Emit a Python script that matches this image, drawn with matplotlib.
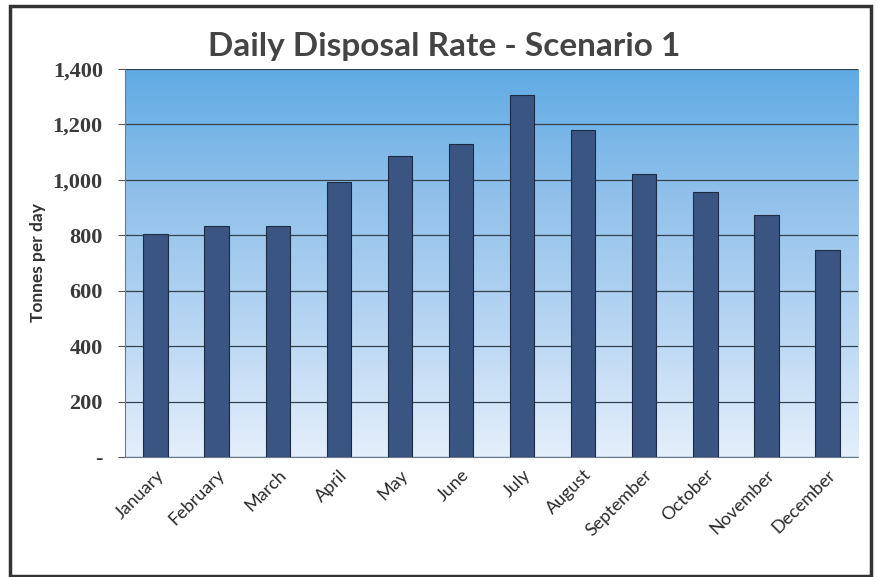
import numpy as np
import matplotlib
matplotlib.use("Agg")
import matplotlib.pyplot as plt
from matplotlib.colors import LinearSegmentedColormap
from matplotlib.patches import Rectangle

months = ["January", "February", "March", "April", "May", "June", "July",
          "August", "September", "October", "November", "December"]
rates = [805, 833, 835, 993, 1085, 1130, 1305, 1180, 1022, 955, 872, 748]
yticks = [0, 200, 400, 600, 800, 1000, 1200, 1400]
ytick_labels = ["-", "200", "400", "600", "800", "1,000", "1,200", "1,400"]

fig = plt.figure(figsize=(8.79, 5.77), dpi=100)
ax = fig.add_axes([0.1422, 0.208, 0.834, 0.6724])

# blue gradient background, dark at top
grad = LinearSegmentedColormap.from_list("bg", ["#e4effb", "#b8d6f3", "#92c1eb", "#60abe4"])
g = np.linspace(0, 1, 256).reshape(-1, 1)
ax.imshow(g, aspect="auto", cmap=grad, origin="lower",
          extent=[0, 1, 0, 1], transform=ax.transAxes, zorder=0)

x = np.arange(len(months))
ax.bar(x, rates, width=0.4, color="#3a5582", edgecolor="#1c2c44",
       linewidth=0.8, zorder=3)

ax.set_xlim(-0.5, len(months) - 0.5)
ax.set_ylim(0, 1400)
ax.set_yticks(yticks)
ax.set_yticklabels(ytick_labels, fontfamily="Liberation Serif", fontsize=16,
                   fontweight="bold", color="#3a3a3a")
ax.set_xticks(x)
ax.set_xticklabels(months, rotation=45, ha="right", rotation_mode="anchor",
                   fontfamily="Lato", fontsize=13, color="#2a2a2a")
ax.tick_params(axis="x", length=0, pad=7)
ax.tick_params(axis="y", length=5, color="#555555", pad=11)
ax.yaxis.grid(True, color="#33424f", linewidth=0.9, zorder=1)
ax.set_axisbelow(True)
for s in ["top", "right"]:
    ax.spines[s].set_visible(False)
ax.spines["left"].set_color("#6a7a8a")
ax.spines["bottom"].set_color("#6a7a8a")

ax.set_ylabel("Tonnes per day", fontfamily="Lato", fontweight="bold",
              fontsize=12.5, color="#333333", labelpad=5)

fig.text(0.505, 0.92, "Daily Disposal Rate - Scenario 1", ha="center",
         va="center", fontfamily="Lato", fontweight="bold", fontsize=24,
         color="#444444")

# outer chart border
fig.patches.append(Rectangle((0.011, 0.002), 0.98, 0.988, transform=fig.transFigure,
                             fill=False, edgecolor="#333333", linewidth=2.5))

fig.savefig("out.png", dpi=100)
